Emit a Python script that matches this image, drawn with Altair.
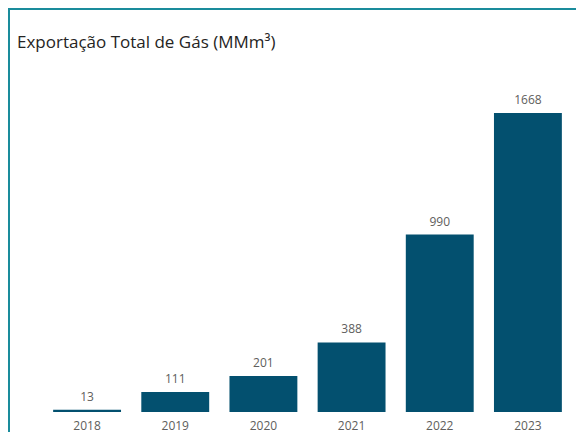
import altair as alt
import pandas as pd

years = ["2018", "2019", "2020", "2021", "2022", "2023"]
values = [13, 111, 201, 388, 990, 1668]
title_text = "Exportação Total de Gás (MMm³)"

df = pd.DataFrame({"Ano": years, "Valor": values})

FONT = "Segoe UI, Open Sans, Noto Sans, sans-serif"
BAR = "#03506F"
BORDER = "#1A8C9C"

base = alt.Chart(df)

x = alt.X("Ano:N", sort=years,
          scale=alt.Scale(paddingInner=0.23, paddingOuter=0.115),
          axis=alt.Axis(title=None, labelAngle=0, ticks=False, domain=False,
                        labelFont=FONT, labelFontSize=12, labelColor="#605E5C",
                        labelPadding=8))
y = alt.Y("Valor:Q", scale=alt.Scale(domain=[0, 1852], nice=False), axis=None)

bars = base.mark_bar(color=BAR).encode(x=x, y=y)
labels = base.mark_text(dy=-6, baseline="bottom", font=FONT, fontSize=12,
                        color="#605E5C").encode(x=x, y=y, text="Valor:Q")

one = alt.Chart(pd.DataFrame({"t": [title_text]}))
left_border = one.mark_rule(color=BORDER, strokeWidth=2).encode(
    x=alt.value(-34), y=alt.value(-71), y2=alt.value(360))
top_border = one.mark_rule(color=BORDER, strokeWidth=2).encode(
    x=alt.value(-35), x2=alt.value(540), y=alt.value(-71))
title = one.mark_text(align="left", baseline="alphabetic", font=FONT, fontSize=17,
                      color="#252423").encode(
    x=alt.value(-26), y=alt.value(-32), text="t:N")

chart = alt.layer(bars, labels, left_border, top_border, title).properties(
    width=529, height=332,
    autosize=alt.AutoSizeParams(type="none"),
    padding={"left": 35, "top": 72, "right": 4, "bottom": 20},
).configure_view(stroke=None)

chart.save("out.html", embed_options={"renderer": "svg", "actions": False})
